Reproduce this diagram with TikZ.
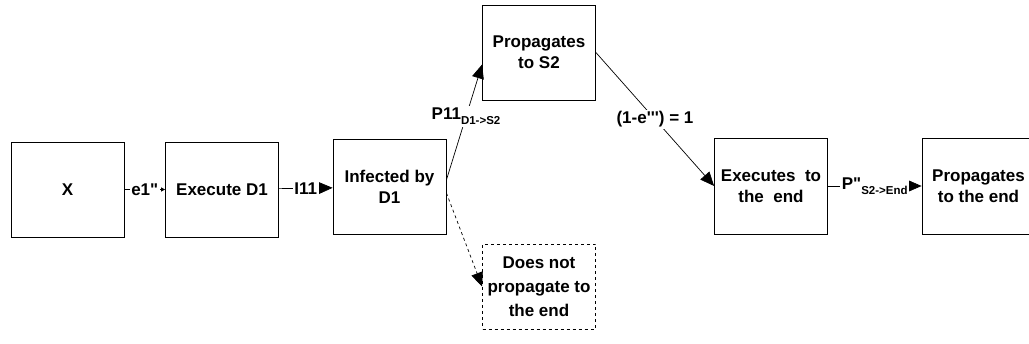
\documentclass[tikz,border=0pt]{standalone}
\usepackage{fontspec}
\setmainfont{Liberation Sans}
\usetikzlibrary{arrows.meta}
\def\lowtext#1{\raisebox{-0.6ex}{\fontsize{11.5}{12}\selectfont #1}}

\begin{document}
\begin{tikzpicture}[x=1pt,y=-1pt,
					every node/.style={font=\fontsize{17}{21}\selectfont\bfseries},
					state/.style={draw,line width=0.8pt,minimum width=113pt,minimum height=95pt,align=center,inner sep=2pt},
					flow/.style={line width=0.7pt,-{Triangle[length=14pt,width=12pt]}},
					lbl/.style={fill=white,inner sep=1.5pt}]
				\useasboundingbox (0,0) rectangle (1029,344);
				% boxes of the chain
				\node[state] (x) at (67.5,189.5) {X};
				\node[state] (exec) at (222,189.5) {Execute D1};
				\node[state] (inf) at (389.5,187) {Infected by\\D1};
				\node[state] (prop) at (539,52.5) {Propagates\\to S2};
				\node[state,minimum height=85pt,dashed,font=\fontsize{17}{24}\selectfont\bfseries] (nope) at (539,286.5) {Does not\\propagate to\\the end};
				\node[state,minimum height=96pt] (toend) at (771,186) {Executes~ to\\the~ end};
				\node[state,minimum height=96pt] (propend) at (978.5,186) {Propagates\\to the end};
				% connectors
				\draw[line width=0.7pt,-{Triangle[length=4pt,width=4pt]}] (x) -- node[lbl] {e1\textquotedbl} (exec);
				\draw[flow] (exec) -- node[lbl] {I11} (inf);
				\draw[flow] ([yshift=7pt]inf.east) -- node[lbl,pos=0.55] {P11\lowtext{D1->S2}} ([yshift=-12pt]prop.west);
				\draw[flow,dashed] ([yshift=-6pt]inf.east) -- (nope.west);
				\draw[flow] (prop.east) -- node[lbl] {(1-e\textquotesingle\textquotesingle\textquotesingle) = 1} (toend.west);
				\draw[flow] (toend) -- node[lbl] {P\textquotedbl\lowtext{S2->End}} (propend);
			\end{tikzpicture}
\end{document}
